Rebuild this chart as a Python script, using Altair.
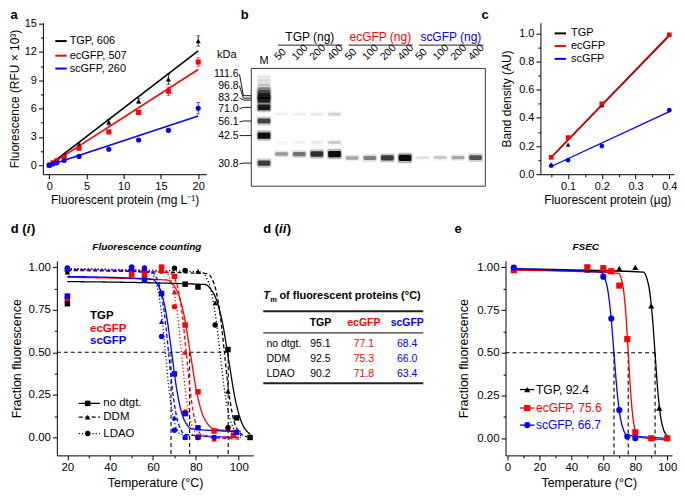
import altair as alt
import pandas as pd

FONT = "Liberation Sans"
BLACK, RED, BLUE = "#000000", "#ff0000", "#0000ff"
PROTEINS = ["TGP", "ecGFP", "scGFP"]
PROT_COLORS = [BLACK, RED, BLUE]
PROT_SHAPES = ["triangle-up", "square", "circle"]
CONDS = ["no dtgt.", "DDM", "LDAO"]
COND_SHAPES = ["square", "triangle-up", "circle"]
COND_DASH = [[1, 0], [4, 2.5], [1.2, 2.2]]

# ---------------- panel a : fluorescence vs concentration ----------------
a_conc = [0, 0.5, 1, 2, 4, 8, 12, 16, 20]
a_tgp = [0.0, 0.24, 0.49, 1.1, 2.14, 4.55, 6.8, 9.1, 13.16]
a_tgp_sd = [0.03, 0.03, 0.05, 0.08, 0.12, 0.3, 0.25, 0.55, 0.55]
a_ec = [0.0, 0.25, 0.45, 0.86, 1.79, 3.52, 5.58, 7.83, 10.93]
a_ec_sd = [0.03, 0.03, 0.05, 0.06, 0.1, 0.15, 0.2, 0.45, 0.45]
a_sc = [0.0, 0.12, 0.25, 0.49, 0.93, 1.69, 2.66, 3.69, 6.03]
a_sc_sd = [0.03, 0.03, 0.03, 0.05, 0.06, 0.1, 0.1, 0.15, 0.6]
a_fit_conc = [0, 20]
a_fit = {"TGP": [0, 12.1], "ecGFP": [0, 10.14], "scGFP": [0, 5.2]}
a_legend = ["TGP, 606", "ecGFP, 507", "scGFP, 260"]
a_legend_y = [13.15, 11.6, 10.24]

# ---------------- panel b : gel ----------------
gel_lane_names = ["M", "50", "100", "200", "400", "50", "100", "200", "400",
                  "50", "100", "200", "400"]
gel_groups = ["TGP (ng)", "ecGFP (ng)", "scGFP (ng)"]
gel_group_first = [1, 5, 9]
gel_group_last = [4, 8, 12]
band_lane = [0] * 11 + [1, 2, 3, 4] * 3 + [5, 6, 7, 8] + [9, 10, 11, 12]
band_mig = ([8.3, 12.3, 16.7, 21, 24.3, 28.3, 32.3, 40, 54, 69, 97.3]
            + [88] * 4 + [47] * 4 + [76] * 4 + [92] * 4 + [91.7] * 4)
band_int = ([0.08, 0.12, 0.18, 0.35, 0.55, 0.85, 0.85, 0.9, 0.7, 1.0, 0.75]
            + [0.35, 0.5, 0.8, 1.0] + [0.05, 0.06, 0.08, 0.15] + [0.04, 0.05, 0.08, 0.18]
            + [0.3, 0.45, 0.75, 1.0] + [0.1, 0.18, 0.3, 0.65])
kda_labels = ["111.6", "96.8", "83.2", "71.0", "56.1", "42.5", "30.8"]
kda_mig = [28, 30.5, 32.5, 40, 54, 69, 97.3]
kda_label_mig = [6, 18, 30, 41.5, 55, 69, 98]
GEL_LEN = 121

# ---------------- panel c : band density ----------------
c_amt = [0.05, 0.1, 0.2, 0.4]
c_vals = {"TGP": [0.07, 0.21, 0.49, 0.99],
          "ecGFP": [0.12, 0.26, 0.50, 0.99],
          "scGFP": [0.06, 0.10, 0.20, 0.455]}
c_fit_amt = [0.05, 0.4]
c_fit = {"TGP": [0.118, 0.983], "ecGFP": [0.123, 0.99], "scGFP": [0.055, 0.445]}
c_legend_y = [1.0, 0.91, 0.819]

# ---------------- panel d(i) : fluorescence counting ----------------
d_curves = {
    ("TGP", "no dtgt."): ([20, 84.1, 86.9, 89.7, 92.5, 95.3, 98.1, 100.9, 103.7, 105.5],
                          [0.915, 0.898, 0.872, 0.805, 0.668, 0.455, 0.242, 0.104, 0.038, 0.019]),
    ("TGP", "DDM"): ([20, 85.4, 87.4, 89.4, 91.4, 93.4, 95.4, 97.4, 99.4, 101.4, 104],
                     [0.98, 0.962, 0.934, 0.863, 0.716, 0.49, 0.264, 0.117, 0.046, 0.018, 0.004]),
    ("TGP", "LDAO"): ([20, 82.5, 84.7, 86.9, 89.1, 91.3, 93.5, 95.7, 97.9, 100.1, 102],
                      [0.99, 0.972, 0.943, 0.872, 0.724, 0.495, 0.266, 0.118, 0.047, 0.018, 0.007]),
    ("ecGFP", "no dtgt."): ([20, 66.7, 69.4, 72.1, 74.8, 77.5, 80.2, 82.9, 85.6, 88.3, 101],
                            [0.94, 0.924, 0.897, 0.832, 0.697, 0.488, 0.278, 0.143, 0.078, 0.051, 0.036]),
    ("ecGFP", "DDM"): ([20, 68.0, 69.9, 71.8, 73.7, 75.6, 77.5, 79.4, 81.3, 83.2, 101],
                       [0.985, 0.967, 0.938, 0.867, 0.717, 0.488, 0.258, 0.108, 0.037, 0.008, -0.01]),
    ("ecGFP", "LDAO"): ([20, 65.7, 67.6, 69.5, 71.4, 73.3, 75.2, 77.1, 79.0, 80.9, 101],
                        [0.99, 0.972, 0.943, 0.872, 0.724, 0.495, 0.266, 0.118, 0.047, 0.018, 0.0]),
    ("scGFP", "no dtgt."): ([20, 59.6, 61.9, 64.2, 66.5, 68.8, 71.1, 73.4, 75.7, 78.0, 100],
                            [0.945, 0.929, 0.902, 0.837, 0.700, 0.49, 0.28, 0.143, 0.078, 0.051, 0.035]),
    ("scGFP", "DDM"): ([20, 59.7, 61.6, 63.5, 65.4, 67.3, 69.2, 71.1, 73.0, 74.9, 100],
                       [0.985, 0.967, 0.939, 0.868, 0.72, 0.493, 0.265, 0.117, 0.046, 0.018, 0.0]),
    ("scGFP", "LDAO"): ([20, 58.6, 60.4, 62.2, 64.0, 65.8, 67.6, 69.4, 71.2, 73.0, 100],
                        [0.99, 0.972, 0.943, 0.872, 0.724, 0.495, 0.266, 0.118, 0.047, 0.018, 0.0]),
}
d_markers = {
    ("TGP", "no dtgt."): ([20, 75, 81, 95, 99, 105.3], [0.785, 0.90, 0.883, 0.516, 0.115, 0.0]),
    ("TGP", "DDM"): ([20, 81, 89, 95], [0.97, 0.975, 0.79, 0.27]),
    ("TGP", "LDAO"): ([20, 70, 75, 89, 95], [0.98, 0.994, 0.98, 0.66, 0.057]),
    ("ecGFP", "no dtgt."): ([20, 50, 56, 64, 70, 75, 81, 88.5, 97.6],
                            [0.815, 0.955, 0.955, 1.0, 0.946, 0.66, 0.268, 0.038, 0.014]),
    ("ecGFP", "DDM"): ([20, 50, 56, 70, 75, 81, 88.5], [0.985, 0.99, 0.995, 0.854, 0.50, 0.01, -0.01]),
    ("ecGFP", "LDAO"): ([20, 56, 64, 70, 75, 81], [0.99, 0.985, 0.975, 0.768, 0.15, 0.0]),
    ("scGFP", "no dtgt."): ([20, 50, 56, 64, 70, 75, 81, 99],
                            [0.83, 0.99, 0.925, 0.845, 0.373, 0.14, 0.057, 0.03]),
    ("scGFP", "DDM"): ([20, 50, 56, 64, 70, 75, 81], [0.985, 0.99, 0.99, 0.68, 0.115, 0.0, 0.0]),
    ("scGFP", "LDAO"): ([20, 50, 56, 64, 70, 75, 81, 88.5], [0.995, 1.0, 0.995, 0.593, 0.042, 0.0, 0.0, 0.0]),
}
d_tm_lines = [68.4, 77.1, 95.1]
d_legend_prot_y = [0.711, 0.635, 0.564]
d_legend_cond_y = [0.2, 0.119, 0.023]

# ---------------- panel d(ii) : Tm table ----------------
tm_table = {"TGP": [95.1, 92.5, 90.2], "ecGFP": [77.1, 75.3, 71.8], "scGFP": [68.4, 66.0, 63.4]}

# ---------------- panel e : FSEC ----------------
e_curves = {
    "TGP": ([3, 85.2, 87.0, 88.8, 90.6, 92.4, 94.2, 96.0, 97.8, 99.6, 100.5],
            [0.99, 0.972, 0.943, 0.872, 0.724, 0.495, 0.266, 0.118, 0.047, 0.018, 0.01]),
    "ecGFP": ([3, 69.7, 71.2, 72.7, 74.2, 75.7, 77.2, 78.7, 80.2, 81.7, 100],
              [0.983, 0.965, 0.936, 0.865, 0.715, 0.487, 0.258, 0.108, 0.037, 0.008, -0.01]),
    "scGFP": ([3, 58.7, 60.7, 62.7, 64.7, 66.7, 68.7, 70.7, 72.7, 74.7, 100],
              [0.99, 0.972, 0.943, 0.872, 0.724, 0.495, 0.266, 0.118, 0.047, 0.018, 0.0]),
}
e_markers = {
    "TGP": ([4, 50, 60, 70, 80, 90, 95, 100], [0.985, 0.985, 0.99, 0.993, 1.0, 0.774, 0.177, 0.0]),
    "ecGFP": ([4, 50, 60, 65, 70, 75, 80, 90, 100], [0.983, 1.0, 0.995, 0.977, 0.893, 0.58, 0.035, 0.0, 0.0]),
    "scGFP": ([4, 60, 65, 70, 75, 80], [0.998, 0.945, 0.70, 0.165, 0.01, 0.0]),
}
e_tm = [66.7, 75.6, 92.4]
e_legend = ["TGP, 92.4", "ecGFP, 75.6", "scGFP, 66.7"]
e_legend_y = [0.285, 0.177, 0.077]

# ====================== helpers ======================
color_sc = alt.Scale(domain=PROTEINS, range=PROT_COLORS)
pshape_sc = alt.Scale(domain=PROTEINS, range=PROT_SHAPES)
cshape_sc = alt.Scale(domain=CONDS, range=COND_SHAPES)
dash_sc = alt.Scale(domain=CONDS, range=COND_DASH)
COLOR = alt.Color("protein:N", scale=color_sc, legend=None)
LETTER = 13
LETTER_Y_TOP = -4
LETTER_Y_BOT = -28


def axis(title, values=None, major=None, fmt=None, label_size=11, title_size=12, tpad=3):
    kw = dict(title=title, grid=False, domainColor="black", domainWidth=1, tickColor="black",
              tickWidth=1, labelColor="black", titleColor="black", labelFontSize=label_size,
              titleFontSize=title_size, titleFontWeight="normal", titlePadding=tpad,
              labelPadding=2, labelOverlap=False, labelFlush=False)
    if values is not None:
        kw["values"] = values
    if fmt:
        kw["format"] = fmt
    if major:
        kw["labelExpr"] = f"({major}) ? datum.label : ''"
        kw["tickSize"] = {"condition": {"test": major, "value": 4.5}, "value": 2.5}
    else:
        kw["tickSize"] = 4.5
    return alt.Axis(**kw)


def text_at(text, x, y, size=LETTER, weight="bold", style="normal", color=BLACK,
            align="left", baseline="alphabetic"):
    return alt.Chart(pd.DataFrame({"t": [text]})).mark_text(
        fontSize=size, fontWeight=weight, fontStyle=style, color=color,
        align=align, baseline=baseline).encode(x=alt.value(x), y=alt.value(y), text="t:N")


def wide_to_long(xs_by_key, keyname="protein"):
    rows = []
    for k, (xs, ys) in xs_by_key.items():
        for x, y in zip(xs, ys):
            rows.append({keyname: k, "x": x, "y": y})
    return pd.DataFrame(rows)


# ====================== panel a ======================
a_rows = []
for p, ys, sds in zip(PROTEINS, [a_tgp, a_ec, a_sc], [a_tgp_sd, a_ec_sd, a_sc_sd]):
    for x, y, s in zip(a_conc, ys, sds):
        a_rows.append({"protein": p, "x": x, "y": y, "lo": y - s, "hi": y + s})
a_df = pd.DataFrame(a_rows)
a_fit_df = wide_to_long({p: (a_fit_conc, a_fit[p]) for p in PROTEINS})
a_leg_df = pd.DataFrame({"protein": PROTEINS, "label": a_legend, "y": a_legend_y})

a_xs = alt.Scale(domain=[-0.85, 21.1], nice=False, zero=False)
a_ys = alt.Scale(domain=[-0.96, 15.1], nice=False, zero=False)
a_xax = axis("Fluorescent protein (mg L⁻¹)", values=[0, 5, 10, 15, 20], tpad=3)
a_yax = axis("Fluorescence (RFU × 10³)", values=[1.5 * i for i in range(11)],
             major="datum.value % 3 === 0", tpad=3)


def aX(f):
    return alt.X(f"{f}:Q", scale=a_xs, axis=a_xax)


def aY(f):
    return alt.Y(f"{f}:Q", scale=a_ys, axis=a_yax)


a_chart = alt.layer(
    alt.Chart(a_fit_df).mark_line(strokeWidth=1.6).encode(x=aX("x"), y=aY("y"), color=COLOR),
    alt.Chart(a_df).mark_rule(strokeWidth=0.8).encode(x=aX("x"), y=aY("lo"), y2="hi:Q", color=COLOR),
    alt.Chart(a_df).mark_tick(orient="horizontal", size=4, thickness=0.8).encode(x=aX("x"), y=aY("lo"), color=COLOR),
    alt.Chart(a_df).mark_tick(orient="horizontal", size=4, thickness=0.8).encode(x=aX("x"), y=aY("hi"), color=COLOR),
    alt.Chart(a_df).mark_point(filled=True, size=26, opacity=1).encode(
        x=aX("x"), y=aY("y"), color=COLOR, shape=alt.Shape("protein:N", scale=pshape_sc, legend=None)),
    alt.Chart(a_leg_df).transform_calculate(x0="0.82", x1="2.34").mark_rule(strokeWidth=2).encode(
        x=aX("x0"), x2="x1:Q", y=aY("y"), color=COLOR),
    alt.Chart(a_leg_df).transform_calculate(xt="2.74").mark_text(align="left", baseline="middle", fontSize=11).encode(
        x=aX("xt"), y=aY("y"), text="label:N"),
    text_at("a", -32.4, LETTER_Y_TOP),
).properties(width=164, height=152)

# ====================== panel b ======================
b_xs = alt.Scale(domain=[-0.722, 13.135], nice=False, zero=False)
b_ys = alt.Scale(domain=[-47, GEL_LEN], reverse=True, nice=False, zero=False)


def bX(f):
    return alt.X(f"{f}:Q", scale=b_xs, axis=None)


def bY(f):
    return alt.Y(f"{f}:Q", scale=b_ys, axis=None)


bands_df = pd.DataFrame({"lane": band_lane, "mig": band_mig, "inten": band_int})
lane_df = pd.DataFrame({"lane": list(range(1, 13)), "name": gel_lane_names[1:]})
grp_df = pd.DataFrame({"grp": gel_groups, "first": gel_group_first, "last": gel_group_last, "protein": PROTEINS})
kda_df = pd.DataFrame({"kda": kda_labels, "band": kda_mig, "lab": kda_label_mig})
frame_df = pd.DataFrame({"l": [min(band_lane) - 0.72], "r": [max(band_lane) + 0.556], "t": [0], "b": [GEL_LEN]})

b_chart = alt.layer(
    alt.Chart(frame_df).mark_rect(fill="white", stroke="#3a3a3a", strokeWidth=1).encode(
        x=bX("l"), x2="r:Q", y=bY("t"), y2="b:Q"),
    alt.Chart(bands_df).transform_calculate(
        x0="datum.lane - 0.42", x1="datum.lane + 0.42",
        y0="datum.mig - (2.6 + 2.8*datum.inten)", y1="datum.mig + (2.6 + 2.8*datum.inten)",
        op="0.28*datum.inten").mark_rect(color="black", cornerRadius=2).encode(
        x=bX("x0"), x2="x1:Q", y=bY("y0"), y2="y1:Q", opacity=alt.Opacity("op:Q", scale=None)),
    alt.Chart(bands_df).transform_calculate(
        x0="datum.lane - 0.36", x1="datum.lane + 0.36",
        y0="datum.mig - (1.1 + 2.1*datum.inten)", y1="datum.mig + (1.1 + 2.1*datum.inten)",
        op="min(1, 0.95*datum.inten)").mark_rect(color="black", cornerRadius=1.5).encode(
        x=bX("x0"), x2="x1:Q", y=bY("y0"), y2="y1:Q", opacity=alt.Opacity("op:Q", scale=None)),
    alt.Chart(lane_df).transform_calculate(xl="datum.lane - 0.3").mark_text(
        angle=315, align="left", baseline="middle", fontSize=10.5).encode(
        x=bX("xl"), y=alt.value(36.1), text="name:N"),
    alt.Chart(pd.DataFrame({"lane": [0], "name": [gel_lane_names[0]]})).mark_text(
        baseline="middle", fontSize=11).encode(x=bX("lane"), y=alt.value(38.6), text="name:N"),
    alt.Chart(grp_df).transform_calculate(xc="(datum.first + datum.last)/2 + 0.1").mark_text(
        fontSize=12, baseline="middle").encode(x=bX("xc"), y=alt.value(14.6), text="grp:N", color=COLOR),
    alt.Chart(grp_df).transform_calculate(x0="datum.first - 0.2", x1="datum.last + 0.45").mark_rule(
        color="#222222", strokeWidth=1).encode(x=bX("x0"), x2="x1:Q", y=alt.value(22.5)),
    alt.Chart(kda_df).transform_calculate(xt="-1.44").mark_text(
        align="right", baseline="middle", fontSize=10.5).encode(x=bX("xt"), y=bY("lab"), text="kda:N"),
    alt.Chart(kda_df).transform_calculate(xa="-1.39", xb="-1.17").mark_rule(
        color="black", strokeWidth=0.9).encode(x=bX("xa"), x2="xb:Q", y=bY("lab"), y2="band:Q"),
    alt.Chart(kda_df).transform_calculate(xb="-1.17", xc="-0.72").mark_rule(
        color="black", strokeWidth=0.9).encode(x=bX("xb"), x2="xc:Q", y=bY("band")),
    text_at("kDa", -24.6, 32.9, size=11, weight="normal", align="center", baseline="middle"),
    text_at("b", -10.6, LETTER_Y_TOP),
).properties(width=245, height=164)

# ====================== panel c ======================
c_df = wide_to_long({p: (c_amt, c_vals[p]) for p in PROTEINS})
c_fit_df = wide_to_long({p: (c_fit_amt, c_fit[p]) for p in ["TGP", "ecGFP", "scGFP"]})
c_leg_df = pd.DataFrame({"protein": PROTEINS, "label": PROTEINS, "y": c_legend_y})
c_xs = alt.Scale(domain=[0.018, 0.414], nice=False, zero=False)
c_ys = alt.Scale(domain=[0, 1.076], nice=False, zero=False)
c_xax = axis("Fluorescent protein (µg)", values=[0.05 * i for i in range(1, 9)],
             major="abs(datum.value*10 - round(datum.value*10)) < 1e-6", fmt=".1f", tpad=3)
c_yax = axis("Band density (AU)", values=[0.1 * i for i in range(11)],
             major="abs(datum.value*5 - round(datum.value*5)) < 1e-6", fmt=".1f", tpad=5)


def cX(f):
    return alt.X(f"{f}:Q", scale=c_xs, axis=c_xax)


def cY(f):
    return alt.Y(f"{f}:Q", scale=c_ys, axis=c_yax)


c_chart = alt.layer(
    alt.Chart(c_fit_df).mark_line(strokeWidth=1.3).encode(x=cX("x"), y=cY("y"), color=COLOR),
    alt.Chart(c_df).mark_point(filled=True, size=22, opacity=1).encode(
        x=cX("x"), y=cY("y"), color=COLOR, shape=alt.Shape("protein:N", scale=pshape_sc, legend=None)),
    alt.Chart(c_leg_df).transform_calculate(x0="0.060", x1="0.094").mark_rule(strokeWidth=2).encode(
        x=cX("x0"), x2="x1:Q", y=cY("y"), color=COLOR),
    alt.Chart(c_leg_df).transform_calculate(xt="0.1085").mark_text(align="left", baseline="middle", fontSize=11).encode(
        x=cX("xt"), y=cY("y"), text="label:N"),
    text_at("c", -59.1, LETTER_Y_TOP),
).properties(width=134, height=152)

# ====================== panel d(i) ======================
d_curve_rows, d_mark_rows = [], []
for (p, c), (xs, ys) in d_curves.items():
    for x, y in zip(xs, ys):
        d_curve_rows.append({"protein": p, "cond": c, "x": x, "y": y})
for (p, c), (xs, ys) in d_markers.items():
    for x, y in zip(xs, ys):
        d_mark_rows.append({"protein": p, "cond": c, "x": x, "y": y})
d_curve_df = pd.DataFrame(d_curve_rows)
d_mark_df = pd.DataFrame(d_mark_rows)

d_xs = alt.Scale(domain=[15.1, 106.8], nice=False, zero=False)
d_ys = alt.Scale(domain=[-0.105, 1.036], nice=False, zero=False)
d_xax = axis("Temperature (°C)", values=list(range(20, 101, 10)), major="datum.value % 20 === 0",
             label_size=11.5, title_size=12.5, tpad=3)
d_yax = axis("Fraction fluorescence", values=[0.125 * i for i in range(9)],
             major="abs(datum.value*4 - round(datum.value*4)) < 1e-6", fmt=".2f",
             label_size=11.5, title_size=12.5, tpad=5)


def dX(f):
    return alt.X(f"{f}:Q", scale=d_xs, axis=d_xax)


def dY(f):
    return alt.Y(f"{f}:Q", scale=d_ys, axis=d_yax)


d_tm_df = pd.DataFrame({"tm": d_tm_lines})
d_h_df = pd.DataFrame({"x0": [15.1], "x1": [max(d_tm_lines)], "y": [0.5]})
d_legp_df = pd.DataFrame({"protein": PROTEINS, "y": d_legend_prot_y})
d_legc_df = pd.DataFrame({"cond": CONDS, "y": d_legend_cond_y})
d_cshape = alt.Shape("cond:N", scale=cshape_sc, legend=None)
d_dash = alt.StrokeDash("cond:N", scale=dash_sc, legend=None)

d_chart = alt.layer(
    alt.Chart(d_h_df).mark_rule(strokeDash=[4, 3], strokeWidth=1.1, color="black").encode(
        x=dX("x0"), x2="x1:Q", y=dY("y")),
    alt.Chart(d_tm_df).transform_calculate(y0="0.5", y1="-0.105").mark_rule(
        strokeDash=[4, 3], strokeWidth=1.1, color="black").encode(x=dX("tm"), y=dY("y0"), y2="y1:Q"),
    alt.Chart(d_curve_df).mark_line(interpolate="monotone", strokeWidth=1.3).encode(
        x=dX("x"), y=dY("y"), color=COLOR, strokeDash=d_dash),
    alt.Chart(d_mark_df).mark_point(filled=True, size=30, opacity=1).encode(
        x=dX("x"), y=dY("y"), color=COLOR, shape=d_cshape),
    alt.Chart(d_legp_df).transform_calculate(xt="30.6").mark_text(
        align="left", baseline="middle", fontSize=11.5, fontWeight="bold").encode(
        x=dX("xt"), y=dY("y"), text="protein:N", color=COLOR),
    alt.Chart(d_legc_df).transform_calculate(x0="25.3", x1="35.2").mark_rule(
        strokeWidth=1.2, color="black").encode(x=dX("x0"), x2="x1:Q", y=dY("y"), strokeDash=d_dash),
    alt.Chart(d_legc_df).transform_calculate(xm="29.5").mark_point(
        filled=True, size=30, opacity=1, color="black").encode(x=dX("xm"), y=dY("y"), shape=d_cshape),
    alt.Chart(d_legc_df).transform_calculate(xt="36.8").mark_text(
        align="left", baseline="middle", fontSize=11.5).encode(x=dX("xt"), y=dY("y"), text="cond:N"),
    text_at("d (", -46.2, LETTER_Y_BOT),
    text_at("i", -30.3, LETTER_Y_BOT, style="italic"),
    text_at(")", -26.0, LETTER_Y_BOT),
    text_at("Fluorescence counting", 90.3, -13.7, size=10, style="italic", align="center", baseline="middle"),
).properties(width=197, height=195)

# ====================== panel d(ii) : table ======================
tab_rows = []
for p in PROTEINS:
    for c, v in zip(CONDS, tm_table[p]):
        tab_rows.append({"protein": p, "cond": c, "val": f"{v:.1f}"})
tab_df = pd.DataFrame(tab_rows)
col_x = alt.X("protein:N", scale=alt.Scale(type="point", domain=PROTEINS, range=[57.4, 144.4], padding=0), axis=None)
row_y = alt.Y("cond:N", scale=alt.Scale(type="point", domain=CONDS, range=[83, 113.5], padding=0), axis=None)

t_chart = alt.layer(
    alt.Chart(tab_df).mark_text(fontSize=10.5, baseline="middle").encode(
        x=col_x, y=row_y, text="val:N", color=COLOR),
    alt.Chart(pd.DataFrame({"protein": PROTEINS})).mark_text(
        fontSize=10.5, fontWeight="bold", baseline="middle").encode(
        x=col_x, y=alt.value(62.5), text="protein:N", color=COLOR),
    alt.Chart(pd.DataFrame({"cond": CONDS})).mark_text(
        fontSize=10.5, align="left", baseline="middle").encode(
        x=alt.value(3.2), y=row_y, text="cond:N"),
    alt.Chart(pd.DataFrame({"k": [0]})).mark_rule(strokeWidth=2, color="#222222").encode(
        x=alt.value(0), x2=alt.value(160.5), y=alt.value(50.5)),
    alt.Chart(pd.DataFrame({"k": [0]})).mark_rule(strokeWidth=1.2, color="#333333").encode(
        x=alt.value(0), x2=alt.value(160.5), y=alt.value(72.2)),
    alt.Chart(pd.DataFrame({"k": [0]})).mark_rule(strokeWidth=2, color="#222222").encode(
        x=alt.value(0), x2=alt.value(160.5), y=alt.value(122.7)),
    text_at("T", 0, 38.6, size=11, style="italic"),
    text_at("m", 7.1, 41.5, size=7.5),
    text_at("of fluorescent proteins (°C)", 16.2, 38.6, size=11),
    text_at("d (", 0, LETTER_Y_BOT),
    text_at("ii", 15.9, LETTER_Y_BOT, style="italic"),
    text_at(")", 23.7, LETTER_Y_BOT),
).properties(width=233, height=195)

# ====================== panel e ======================
e_curve_df = wide_to_long(e_curves)
e_mark_df = wide_to_long(e_markers)
e_xs = alt.Scale(domain=[-1.2, 103], nice=False, zero=False)
e_ys = alt.Scale(domain=[-0.1, 1.037], nice=False, zero=False)
e_xax = axis("Temperature (°C)", values=list(range(0, 101, 10)), major="datum.value % 20 === 0",
             label_size=11.5, title_size=12.5, tpad=3)
e_yax = axis("Fraction fluorescence", values=[0.125 * i for i in range(9)],
             major="abs(datum.value*4 - round(datum.value*4)) < 1e-6", fmt=".2f",
             label_size=11.5, title_size=12.5, tpad=6)


def eX(f):
    return alt.X(f"{f}:Q", scale=e_xs, axis=e_xax)


def eY(f):
    return alt.Y(f"{f}:Q", scale=e_ys, axis=e_yax)


e_tm_df = pd.DataFrame({"tm": e_tm})
e_h_df = pd.DataFrame({"x0": [-1.2], "x1": [max(e_tm)], "y": [0.5]})
e_leg_df = pd.DataFrame({"protein": PROTEINS, "label": e_legend, "y": e_legend_y})
e_shape = alt.Shape("protein:N", scale=pshape_sc, legend=None)

e_chart = alt.layer(
    alt.Chart(e_h_df).mark_rule(strokeDash=[4, 3], strokeWidth=1.1, color="black").encode(
        x=eX("x0"), x2="x1:Q", y=eY("y")),
    alt.Chart(e_tm_df).transform_calculate(y0="0.5", y1="-0.1").mark_rule(
        strokeDash=[4, 3], strokeWidth=1.1, color="black").encode(x=eX("tm"), y=eY("y0"), y2="y1:Q"),
    alt.Chart(e_curve_df).mark_line(interpolate="monotone", strokeWidth=1.3).encode(
        x=eX("x"), y=eY("y"), color=COLOR),
    alt.Chart(e_mark_df).mark_point(filled=True, size=38, opacity=1).encode(
        x=eX("x"), y=eY("y"), color=COLOR, shape=e_shape),
    alt.Chart(e_leg_df).transform_calculate(x0="7.8", x1="16.9").mark_rule(strokeWidth=1.3).encode(
        x=eX("x0"), x2="x1:Q", y=eY("y"), color=COLOR),
    alt.Chart(e_leg_df).transform_calculate(xm="12.4").mark_point(filled=True, size=38, opacity=1).encode(
        x=eX("xm"), y=eY("y"), color=COLOR, shape=e_shape),
    alt.Chart(e_leg_df).transform_calculate(xt="17.9").mark_text(
        align="left", baseline="middle", fontSize=12).encode(
        x=eX("xt"), y=eY("y"), text="label:N", color=COLOR),
    text_at("e", -51.1, LETTER_Y_BOT),
    text_at("FSEC", 80.5, -13.7, size=10, style="italic", align="center", baseline="middle"),
).properties(width=167, height=195)

# ====================== layout ======================
spacer = alt.Chart(pd.DataFrame({"k": [0]})).mark_point(opacity=0).encode(
    x=alt.value(0), y=alt.value(0)).properties(width=4, height=10)

top = alt.hconcat(a_chart, b_chart, c_chart, spacing=45, bounds="flush").resolve_scale(
    shape="independent", strokeDash="independent")
bottom = alt.hconcat(spacer, d_chart, t_chart, e_chart, spacing=10, bounds="flush").resolve_scale(
    shape="independent", strokeDash="independent")
chart = alt.vconcat(top, bottom, spacing=17, bounds="full").resolve_scale(
    shape="independent", strokeDash="independent").properties(
    padding=0).configure(font=FONT).configure_view(stroke=None)

chart.save("out.html", embed_options={"renderer": "svg", "actions": False})
